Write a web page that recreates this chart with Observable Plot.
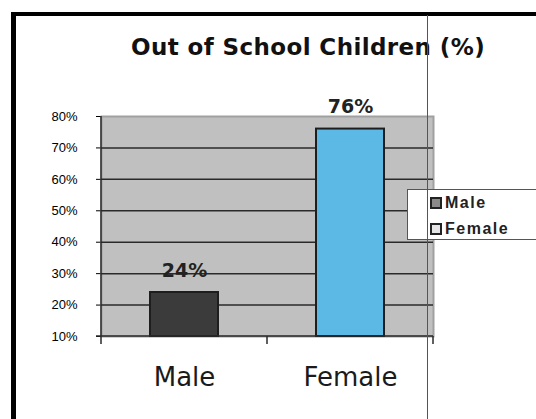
<!DOCTYPE html>
<html><head><meta charset="utf-8">
<script src="https://cdn.jsdelivr.net/npm/d3@7"></script>
<script src="https://cdn.jsdelivr.net/npm/@observablehq/plot@0.6"></script>
<style>
html,body{margin:0;padding:0;background:#fff;}
#wrap{position:relative;width:536px;height:419px;overflow:hidden;font-family:"Liberation Sans",Arial,sans-serif;}
#frame{position:absolute;left:11px;top:12px;width:700px;height:600px;border-left:5px solid #000;border-top:4px solid #000;box-sizing:border-box;}
#title{position:absolute;left:0;width:616px;top:34px;text-align:center;font-family:"DejaVu Sans",sans-serif;font-weight:bold;font-size:23px;letter-spacing:0.4px;color:#111;white-space:nowrap;}
#chart{position:absolute;left:0;top:0;}
#vline{position:absolute;left:427px;top:15px;width:1px;height:420px;background:#555;z-index:5;}
#legend{position:absolute;left:407px;top:189px;width:200px;height:51px;border:1px solid #555;background:#fff;box-sizing:border-box;z-index:4;}
.item{position:absolute;left:22px;font-family:"Liberation Sans",Arial,sans-serif;font-weight:bold;font-size:16px;letter-spacing:1.5px;color:#222;line-height:16px;}
.sw{display:inline-block;width:8px;height:8px;border:2px solid #222;margin-right:3px;vertical-align:-1px;}
</style>
</head><body>
<div id="wrap">
  <div id="frame"></div>
  <div id="title"></div>
  <div id="chart"></div>
  <div id="legend"></div>
  <div id="vline"></div>
</div>
<script>
const titleText = "Out of School Children (%)";
const categories = ["Male", "Female"];
const values = [24, 76];
const valueLabels = ["24%", "76%"];
const barColors = ["#3b3b3b", "#5cb8e4"];
const legendSwatches = ["#8a8a8a", "#e4e4e4"];
const yTicks = [10, 20, 30, 40, 50, 60, 70, 80];

const data = categories.map((c, i) => ({category: c, value: values[i], label: valueLabels[i], color: barColors[i]}));
const yMin = yTicks[0], yMax = yTicks[yTicks.length - 1];

document.getElementById("title").textContent = titleText;

const axisLines = (index, scales, vals, dims) => {
  const g = d3.create("svg:g").attr("stroke", "#2a2a2a").attr("stroke-width", 1.5).attr("fill", "none");
  const x0 = dims.marginLeft, x1 = dims.width - dims.marginRight;
  const yb = scales.y(yMin), yt = scales.y(yMax);
  g.append("line").attr("x1", x0).attr("x2", x0).attr("y1", yt).attr("y2", yb + 8);
  g.append("line").attr("x1", x0 - 5).attr("x2", x1).attr("y1", yb).attr("y2", yb);
  const bounds = categories.slice(1).map(c => scales.x(c)).concat([x1]);
  for (const b of bounds) g.append("line").attr("x1", b).attr("x2", b).attr("y1", yb).attr("y2", yb + 8);
  return g.node();
};

const plot = Plot.plot({
  width: 536, height: 419,
  marginLeft: 101, marginRight: 103, marginTop: 116, marginBottom: 83,
  style: {background: "transparent", overflow: "visible", fontFamily: "'Liberation Sans', Arial, sans-serif", fontSize: "13px"},
  x: {domain: categories, padding: 0, axis: null},
  y: {domain: [yMin, yMax], ticks: yTicks, tickFormat: d => d + "%", tickSize: 5, tickPadding: 19, label: null, color: "#444"},
  marks: [
    Plot.frame({fill: "#c0c0c0", stroke: "#a0a0a0", strokeWidth: 2}),
    Plot.ruleY(yTicks.slice(1, -1), {stroke: "#2a2a2a", strokeWidth: 1.5}),
    Plot.barY(data, {x: "category", y1: () => yMin, y2: "value", fill: "color", stroke: "#1e1e1e", strokeWidth: 2, insetLeft: 49, insetRight: 49}),
    Plot.text(data, {x: "category", y: "value", text: "label", dy: -22, fontSize: 19, fontWeight: "bold", fill: "#222", fontFamily: "'DejaVu Sans', sans-serif", letterSpacing: "0.5px"}),
    Plot.text(data, {x: "category", y: () => yMin, text: "category", dy: 41, fontSize: 26, fill: "#1a1a1a", fontFamily: "'DejaVu Sans', sans-serif", letterSpacing: "0.5px"}),
    axisLines
  ]
});
document.getElementById("chart").appendChild(plot);

const legend = document.getElementById("legend");
categories.forEach((c, i) => {
  const d = document.createElement("div");
  d.className = "item";
  d.style.top = (5 + i * 26) + "px";
  const s = document.createElement("span");
  s.className = "sw";
  s.style.background = legendSwatches[i];
  d.appendChild(s);
  d.appendChild(document.createTextNode(c));
  legend.appendChild(d);
});
</script>
</body></html>
